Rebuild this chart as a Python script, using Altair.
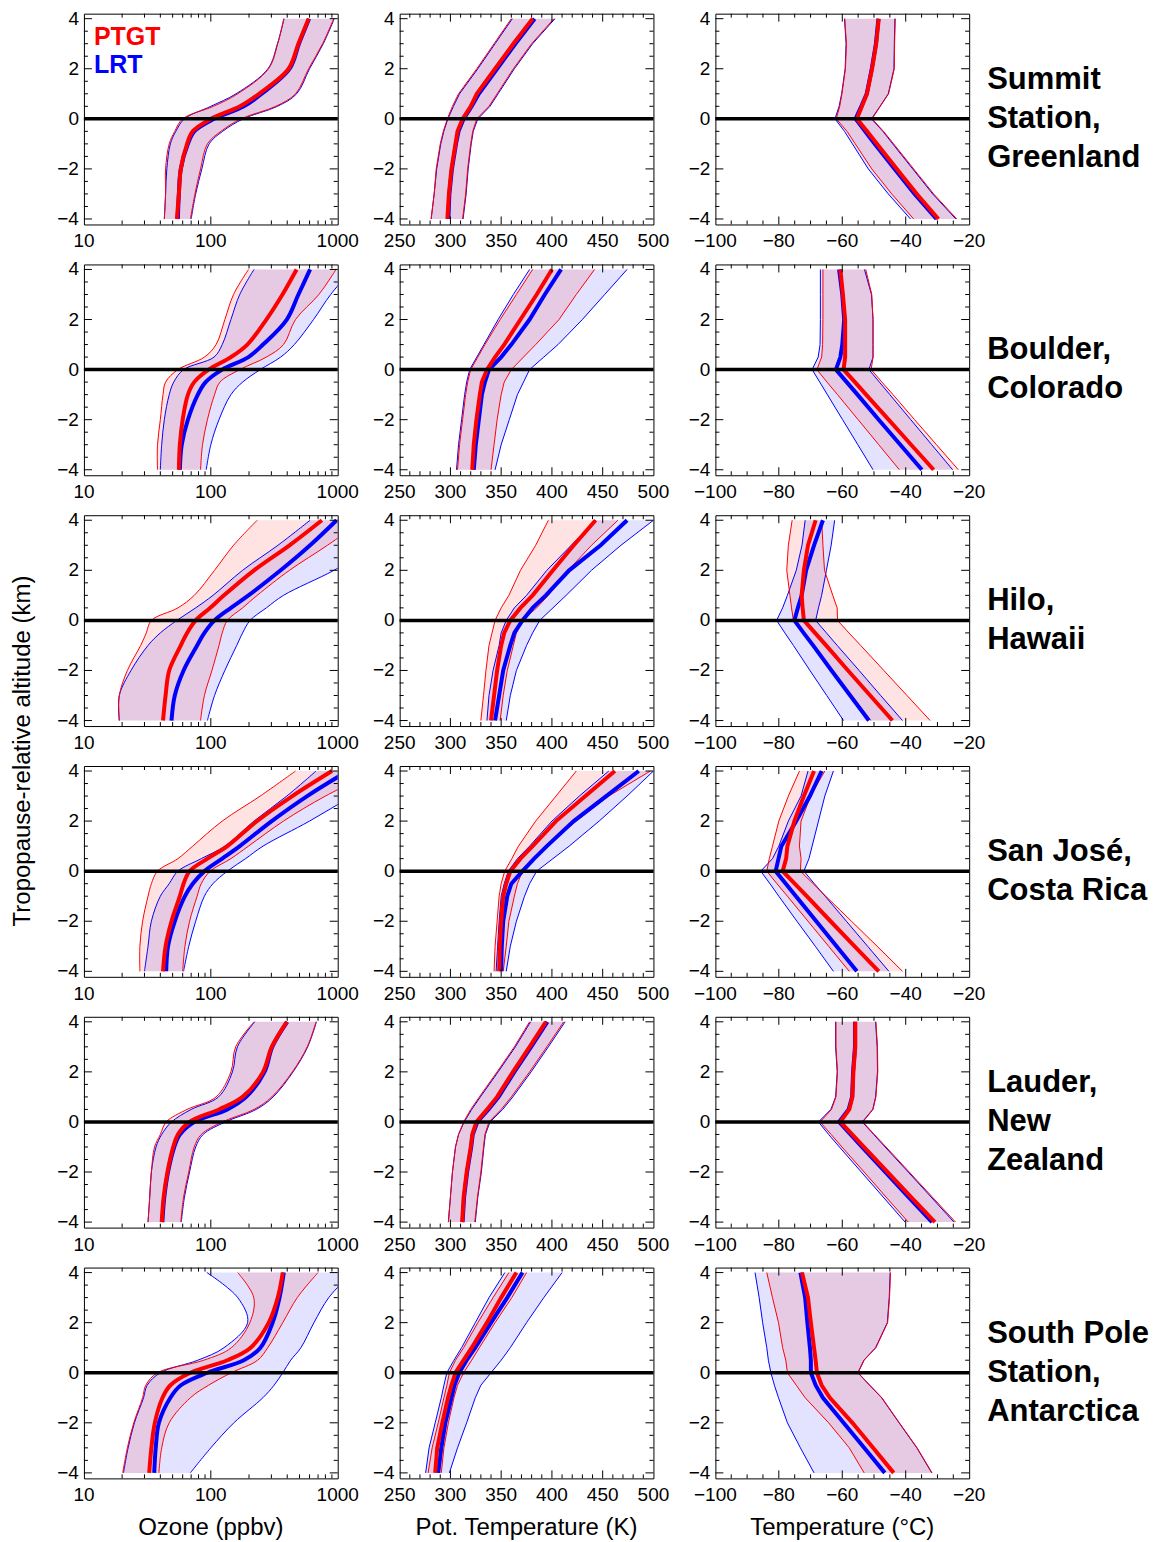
import altair as alt
import pandas as pd

# tropopause-relative altitude grid (km) shared by every profile
ALT = [-4, -3, -2, -1, -0.5, 0, 0.5, 1, 2, 3, 4]

STATIONS = [
    "Summit\nStation,\nGreenland",
    "Boulder,\nColorado",
    "Hilo,\nHawaii",
    "San José,\nCosta Rica",
    "Lauder,\nNew\nZealand",
    "South Pole\nStation,\nAntarctica",
]
X_TITLES = ["Ozone (ppbv)", "Pot. Temperature (K)", "Temperature (°C)"]

# every entry: (lower, median, upper) along ALT
summit_o3 = {
    "PTGT": ([43, 44, 44, 47, 52, 60, 105, 163, 285, 337, 375],
             [54, 56, 58, 65, 72, 100, 170, 240, 410, 490, 590],
             [69, 75, 83, 94, 120, 173, 325, 465, 590, 760, 930]),
    "LRT": ([43, 44, 45, 48, 53, 62, 100, 158, 282, 335, 378],
            [55, 56, 58, 66, 74, 106, 182, 252, 418, 495, 595],
            [70, 76, 85, 97, 124, 180, 335, 475, 600, 770, 940]),
}
summit_th = {
    "PTGT": ([281, 284, 286, 290, 293, 297, 302, 308, 326, 343, 360],
             [297, 298.5, 301, 305, 307, 312, 320, 326, 344, 362, 381],
             [312, 315, 317, 320, 322, 326, 338, 346, 362, 380, 402]),
    "LRT": ([281, 284, 286.5, 290.5, 293.5, 297.5, 303, 309, 327, 344, 361],
            [298, 299, 301.5, 305.5, 308, 313, 321, 328, 346, 364, 383],
            [312.5, 315.5, 317.5, 320.5, 322.5, 327, 339, 347, 363, 381, 403]),
}
summit_t = {
    "PTGT": ([-37.5, -44.4, -50.7, -55.9, -58.5, -61.9, -60.8, -60.1, -59, -58.7, -59.2],
             [-29.7, -36.5, -42.8, -49.1, -52.2, -55.4, -53.8, -52.2, -50.6, -49.3, -48.5],
             [-23.9, -31.2, -37.5, -43.8, -47, -50.6, -48, -45.4, -43.6, -43.5, -43.3]),
    "LRT": ([-38.5, -45.5, -51.8, -56.8, -59.3, -62.3, -61, -60.2, -59.1, -58.8, -59.3],
            [-30.3, -37.2, -43.5, -49.8, -52.8, -55.8, -54, -52.3, -50.7, -49.4, -48.6],
            [-24.2, -31.5, -37.8, -44.1, -47.2, -50.8, -48.1, -45.5, -43.7, -43.6, -43.4]),
}

boulder_o3 = {
    "PTGT": ([38, 38, 40, 42, 44, 55, 89, 110, 129, 151, 198],
             [56, 57, 60, 66, 74, 96, 144, 194, 274, 367, 474],
             [83, 86, 94, 107, 118, 169, 274, 374, 465, 710, 970]),
    "LRT": ([40, 41, 43, 47, 51, 61, 106, 123, 144, 169, 219],
            [57, 59, 66, 79, 91, 123, 198, 258, 397, 490, 606],
            [92, 100, 116, 144, 178, 245, 355, 455, 645, 880, 1300]),
}
boulder_th = {
    "PTGT": ([307, 309, 312, 315, 317, 320, 327, 334, 349, 365, 381],
             [321.5, 323, 325.6, 329, 331, 336, 344, 353, 369, 385, 400],
             [340, 343, 346, 350, 353, 360, 372, 384, 407, 424, 442]),
    "LRT": ([306, 308, 311, 314, 316, 319, 326, 333, 347, 362, 378],
            [323, 325, 328, 331, 334, 338, 350, 360, 378, 393, 409],
            [344, 350, 358, 366, 372, 378, 392, 406, 430, 452, 474]),
}
boulder_t = {
    "PTGT": ([-42, -48.5, -55, -61.5, -64.8, -68, -66.5, -66.2, -66.1, -66.1, -66.1],
             [-31.2, -38.3, -45.4, -52.5, -56, -59.6, -59.1, -59.1, -59.1, -59.8, -60.6],
             [-23.4, -30.3, -37.2, -44, -47.5, -50.9, -50.3, -50.3, -50.3, -50.7, -52.6]),
    "LRT": ([-50.3, -55.1, -59.9, -64.7, -67.1, -69.5, -67.6, -67, -66.9, -66.9, -66.9],
            [-34.9, -41.7, -48.5, -55.2, -58.6, -62, -60.6, -60, -59.4, -60, -61],
            [-25.2, -31.8, -38.4, -45, -48.3, -51.6, -50.3, -50.3, -50.3, -50.8, -53]),
}

hilo_o3 = {
    "PTGT": ([19, 19, 22, 28, 31, 34, 55, 74, 107, 151, 232],
             [42, 44, 47, 58, 65, 76, 99, 127, 219, 417, 750],
             [83, 89, 102, 116, 123, 135, 178, 232, 417, 830, 1580]),
    "LRT": ([19, 19, 23.5, 32, 40, 54, 76, 104, 178, 338, 606],
            [49, 52, 61, 78, 89, 107, 144, 198, 355, 606, 980],
            [94, 107, 129, 160, 178, 204, 274, 374, 935, 2000, 4000]),
}
hilo_th = {
    "PTGT": ([330, 332.6, 335, 338, 341, 344, 350, 357.6, 369, 384, 396.5],
             [340, 343, 346, 350, 353, 359, 369, 381, 401, 421.5, 443],
             [349, 352, 356, 362, 365, 371, 385, 396.5, 416, 439, 465]),
    "LRT": ([336, 338, 342, 348, 350, 355, 363, 375, 395, 419, 443],
            [344, 348, 352, 359, 363, 371, 381, 394, 417, 448, 474],
            [355, 359, 365, 375, 381, 388, 401, 414, 439, 468, 500]),
}
hilo_t = {
    "PTGT": ([-51, -57.1, -63.2, -69.3, -72.3, -75.4, -76, -76.5, -77.5, -77, -75.8],
             [-44.2, -51.2, -58.2, -65.1, -68.6, -72.1, -72.5, -72.8, -72.1, -70.8, -68.4],
             [-32.3, -39.6, -46.9, -54.2, -57.9, -61.5, -61.6, -63, -65.6, -66.1, -66.5]),
    "LRT": ([-59.6, -64.9, -70.2, -75.4, -78.1, -80.7, -78.8, -77.3, -74.5, -72.7, -71.7],
            [-51.6, -57.5, -63.4, -69.2, -72.2, -75.1, -74, -72.8, -71.4, -68.9, -66.1],
            [-41, -47.9, -54.7, -61.6, -65, -68.4, -67.5, -66.5, -65, -63.5, -62.4]),
}

sanjose_o3 = {
    "PTGT": ([27.6, 27.6, 29, 32, 34, 38, 55, 72, 123, 245, 465],
             [42, 44, 49, 57, 61, 68, 94, 135, 231, 439, 900],
             [60, 62.5, 68, 78, 84, 99, 144, 198, 374, 800, 2000]),
    "LRT": ([30, 32, 34, 40, 47, 55, 84, 129, 219, 397, 675],
            [44.5, 46, 52, 62.5, 72, 89, 123, 169, 302, 575, 1200],
            [61, 67, 76, 89, 104, 135, 188, 258, 600, 1300, 3000]),
}
sanjose_th = {
    "PTGT": ([343, 344, 346, 348, 350, 353.5, 360.5, 367, 384, 404, 424],
             [348, 348.5, 350, 352, 355, 359, 369, 381, 404, 433, 462],
             [352, 355, 357.6, 363, 366, 371, 382.5, 395, 424, 456, 497]),
    "LRT": ([345, 346.5, 348, 350, 353, 357, 366, 378, 400, 427, 456],
            [350, 350.6, 352, 356, 360, 371, 382.5, 395, 421.5, 453.5, 485.5],
            [355, 359, 365, 373, 378, 385, 401, 417, 446.5, 474, 500]),
}
sanjose_t = {
    "PTGT": ([-57.8, -64.3, -70.8, -77.3, -80.6, -83.8, -83, -82, -80, -77, -73.5],
             [-48.5, -56.1, -63.7, -71.2, -75, -78.8, -77.7, -77.3, -75.1, -72.1, -68.9],
             [-41, -49, -57.1, -65.2, -69.2, -73.2, -73, -73.5, -73, -70, -65.5]),
    "LRT": ([-62.8, -68.5, -74.3, -80, -82.8, -85.7, -82, -80, -77, -73, -70.8],
            [-55.4, -61.8, -68.2, -74.6, -77.8, -81, -80.1, -79.2, -74.5, -70.2, -66.5],
            [-45.3, -52, -58.7, -65.4, -68.8, -72.1, -70.5, -69.5, -67.5, -65.5, -62.8]),
}

lauder_o3 = {
    "PTGT": ([32, 33, 34, 36, 40, 44.5, 65, 110, 144, 157, 219],
             [41, 42.5, 45.5, 50.5, 55, 68, 116, 178, 258, 302, 397],
             [58, 61, 67, 74, 84, 123, 219, 302, 439, 575, 675]),
    "LRT": ([32, 33, 34, 37, 41, 49, 70, 115, 148, 162, 222],
            [41.5, 43, 46, 51.5, 57, 74, 135, 190, 265, 305, 400],
            [58.5, 62, 68, 76, 87, 130, 228, 310, 445, 580, 680]),
}
lauder_th = {
    "PTGT": ([298, 300, 302, 305, 308, 313, 320, 328.5, 346, 363, 378],
             [311.6, 313, 316, 320, 321.5, 325.6, 336, 346, 361.6, 378, 394],
             [324, 326.7, 330, 332.6, 334, 338, 350, 360, 378, 395, 411.6]),
    "LRT": ([298, 300, 302, 305, 308, 313.5, 321, 329.5, 347, 364, 379],
            [312, 313.5, 316.5, 320.5, 322, 326.5, 337.5, 347.5, 363, 379.5, 395.5],
            [324.5, 327, 330.5, 333, 334.5, 339, 351.5, 361.5, 379.5, 396.5, 413]),
}
lauder_t = {
    "PTGT": ([-39.2, -46.2, -53.1, -60.1, -63.5, -67, -63.4, -62, -61.5, -62, -62],
             [-30.8, -38.3, -45.7, -53.2, -56.9, -60.6, -57.8, -56.8, -56.5, -55.9, -55.9],
             [-24.3, -31.6, -38.9, -46.2, -49.9, -53.5, -50.3, -49.4, -48.8, -48.9, -49.4]),
    "LRT": ([-40.2, -47.1, -54, -60.9, -64.3, -67.5, -63.6, -62.1, -61.6, -62.1, -62.1],
            [-31.7, -39.1, -46.4, -53.8, -57.4, -61, -58, -56.9, -56.6, -56, -56],
            [-24.8, -32, -39.2, -46.5, -50.1, -53.7, -50.4, -49.5, -48.9, -49, -49.5]),
}

southpole_o3 = {
    "PTGT": ([20.2, 22, 24.7, 29, 30.7, 38, 88, 145, 203, 218, 163],
             [32.7, 34, 36.2, 41.6, 48, 69, 135, 206, 286, 337, 369],
             [39, 41, 47, 69, 96, 145, 234, 281, 369, 480, 700]),
    "LRT": ([20.5, 22.3, 25, 29.5, 31.5, 40, 79, 127, 195, 163, 93],
            [35.8, 36.8, 39, 48, 58, 94, 182, 246, 307, 348, 376],
            [69, 100, 152, 257, 315, 369, 426, 513, 650, 850, 1300]),
}
southpole_th = {
    "PTGT": ([278, 282, 288, 293.6, 296.5, 299, 305, 313, 327, 342, 357.6],
             [285, 287, 292, 297.6, 301, 305, 313, 321, 336, 350, 365],
             [291, 293.6, 298, 303.5, 307, 313, 321, 328.5, 344, 360.5, 375]),
    "LRT": ([275.6, 279, 285, 291, 293.6, 296.5, 303.5, 311, 324.5, 338, 353.6],
            [288, 291, 295, 301, 304, 308.7, 316, 324.5, 340, 356, 371],
            [299, 307, 316, 324.5, 330, 340, 350, 359, 375, 392, 410]),
}
southpole_t = {
    "PTGT": ([-53.1, -57.8, -64.3, -71.7, -74.5, -77.3, -77.8, -78.8, -80.1, -82, -83.8],
             [-43.8, -50.3, -56.8, -63.9, -66.5, -68, -68.4, -68.9, -69.9, -70.8, -72.7],
             [-31.7, -36.4, -42, -47.5, -51.3, -55, -53.1, -49.4, -45.7, -45.1, -44.8]),
    "LRT": ([-68.9, -73.2, -77.3, -80.1, -81.4, -82.5, -83.3, -83.8, -85.1, -86.2, -87.5],
            [-46.6, -53.1, -59.6, -66.1, -68.4, -69.9, -69.9, -70.2, -71, -71.7, -73.2],
            [-31.8, -36.5, -42.1, -47.6, -51.4, -55.1, -53.2, -49.5, -45.8, -45.2, -44.9]),
}

PANELS = [
    [summit_o3, summit_th, summit_t],
    [boulder_o3, boulder_th, boulder_t],
    [hilo_o3, hilo_th, hilo_t],
    [sanjose_o3, sanjose_th, sanjose_t],
    [lauder_o3, lauder_th, lauder_t],
    [southpole_o3, southpole_th, southpole_t],
]

# axis values per column
X_LABELS = [[10, 100, 1000], [250, 300, 350, 400, 450, 500], [-100, -80, -60, -40, -20]]
X_MAJOR = [[100], [300, 350, 400, 450], [-80, -60, -40]]
X_MINOR = [
    [20, 30, 40, 50, 60, 70, 80, 90, 200, 300, 400, 500, 600, 700, 800, 900],
    [v for v in range(260, 500, 10) if v % 50],
    [v for v in range(-95, -20, 5) if v % 20],
]
Y_MAJOR = [-4, -2, 0, 2, 4]
Y_MINOR = [-3.5, -3, -2.5, -1.5, -1, -0.5, 0.5, 1, 1.5, 2.5, 3, 3.5]

W, H = 254, 211
RED, BLUE = "#ff0000", "#0000ff"
FONT = "Liberation Sans"
TICK_FONT = 19
X_SCALES = [
    alt.Scale(type="log", domain=[10, 1000], nice=False),
    alt.Scale(domain=[250, 500], nice=False, zero=False),
    alt.Scale(domain=[-100, -20], nice=False, zero=False),
]
CURVES = ["catmull-rom", "linear", "linear"]
Y_SCALE = alt.Scale(domain=[-4.22, 4.2], nice=False, zero=False)


def num(v):
    return str(v).replace("-", "\u2212")


def profile_frame(d):
    rows = []
    for method, (lo, med, hi) in d.items():
        assert len(lo) == len(med) == len(hi) == len(ALT)
        for z, a, b, c in zip(ALT, lo, med, hi):
            rows.append({"alt": z, "method": method, "lo": a, "med": b, "hi": c})
    return pd.DataFrame(rows)


def label(text, x, y, size, color="black", weight="normal", align="left",
          angle=0, line_height=None):
    kw = dict(align=align, baseline="middle", font=FONT, fontSize=size,
              fontWeight=weight, color=color, lineBreak="\n", angle=angle)
    if line_height:
        kw["lineHeight"] = line_height
    return alt.Chart(pd.DataFrame({"t": [text]})).mark_text(**kw).encode(
        x=alt.value(x), y=alt.value(y), text="t:N")


def tick_layers(col):
    xs = X_SCALES[col]
    out = []
    for vals, n in ((X_MAJOR[col], 8), (X_MINOR[col], 4)):
        src = alt.Chart(pd.DataFrame({"v": vals})).mark_rule(color="black", strokeWidth=1)
        xe = alt.X("v:Q", scale=xs, axis=None)
        out.append(src.encode(x=xe, y=alt.value(H), y2=alt.value(H - n)))
        out.append(src.encode(x=xe, y=alt.value(0), y2=alt.value(n)))
    for vals, n in ((Y_MAJOR, 8), (Y_MINOR, 4)):
        src = alt.Chart(pd.DataFrame({"v": vals})).mark_rule(color="black", strokeWidth=1)
        ye = alt.Y("v:Q", scale=Y_SCALE, axis=None)
        out.append(src.encode(y=ye, x=alt.value(0), x2=alt.value(n)))
        out.append(src.encode(y=ye, x=alt.value(W), x2=alt.value(W - n)))

    # tick labels, placed through the scales
    xl = pd.DataFrame({"v": X_LABELS[col], "t": [num(v) for v in X_LABELS[col]]})
    out.append(alt.Chart(xl).mark_text(font=FONT, fontSize=TICK_FONT, baseline="middle",
                                       align="center", color="black")
               .encode(x=alt.X("v:Q", scale=xs, axis=None), y=alt.value(H + 17), text="t:N"))
    yl = pd.DataFrame({"v": Y_MAJOR, "t": [num(v) for v in Y_MAJOR]})
    out.append(alt.Chart(yl).mark_text(font=FONT, fontSize=TICK_FONT, baseline="middle",
                                       align="right", color="black")
               .encode(y=alt.Y("v:Q", scale=Y_SCALE, axis=None), x=alt.value(-5), text="t:N"))
    return out


def panel(d, row, col):
    xs = X_SCALES[col]
    curve = CURVES[col]
    base = alt.Chart(profile_frame(d))
    y_plain = alt.Y("alt:Q", scale=Y_SCALE, axis=None)

    def band(method, color):
        return (base.transform_filter(alt.datum.method == method)
                .mark_area(orient="horizontal", color=color, opacity=0.11, clip=True,
                           interpolate=curve)
                .encode(x=alt.X("lo:Q", scale=xs, axis=None), x2="hi:Q", y=y_plain))

    def line(method, field, color, width):
        return (base.transform_filter(alt.datum.method == method)
                .mark_line(color=color, strokeWidth=width, clip=True, interpolate=curve)
                .encode(x=alt.X(f"{field}:Q", scale=xs, axis=None), y=y_plain, order="alt:Q"))

    zero = alt.Chart(pd.DataFrame({"alt": [0]})).mark_rule(color="black", strokeWidth=3.5).encode(
        y=y_plain, x=alt.value(0), x2=alt.value(W))

    layers = [
        band("LRT", BLUE), band("PTGT", RED),
        line("LRT", "lo", BLUE, 1), line("LRT", "hi", BLUE, 1),
        line("PTGT", "lo", RED, 1), line("PTGT", "hi", RED, 1),
        line("LRT", "med", BLUE, 4), line("PTGT", "med", RED, 4),
        zero,
    ] + tick_layers(col)

    if row == 0 and col == 0:
        layers += [label("PTGT", 10, 23, 25, RED, "bold"),
                   label("LRT", 10, 51, 25, BLUE, "bold")]
    if row == 3 and col == 0:
        layers.append(label("Tropopause-relative altitude (km)", -61, -15, 24,
                            align="center", angle=270))
    if col == 2:
        n_lines = STATIONS[row].count("\n") + 1
        layers.append(label(STATIONS[row], W + 18, H / 2 - (n_lines - 1) * 19.5, 31,
                            weight="bold", line_height=39))
    if row == len(PANELS) - 1:
        layers.append(label(X_TITLES[col], W / 2, H + 50, 24, align="center"))

    return alt.layer(*layers).properties(width=W, height=H)


panels = [panel(d, r, c) for r, trio in enumerate(PANELS) for c, d in enumerate(trio)]

chart = (
    alt.concat(*panels, columns=3, spacing={"row": 40, "column": 62}, bounds="flush")
    .properties(padding={"left": 2, "top": 0, "right": 5, "bottom": 5})
    .configure_view(stroke="black", strokeWidth=1)
)

chart.save("out.html", embed_options={"renderer": "svg", "actions": False})
